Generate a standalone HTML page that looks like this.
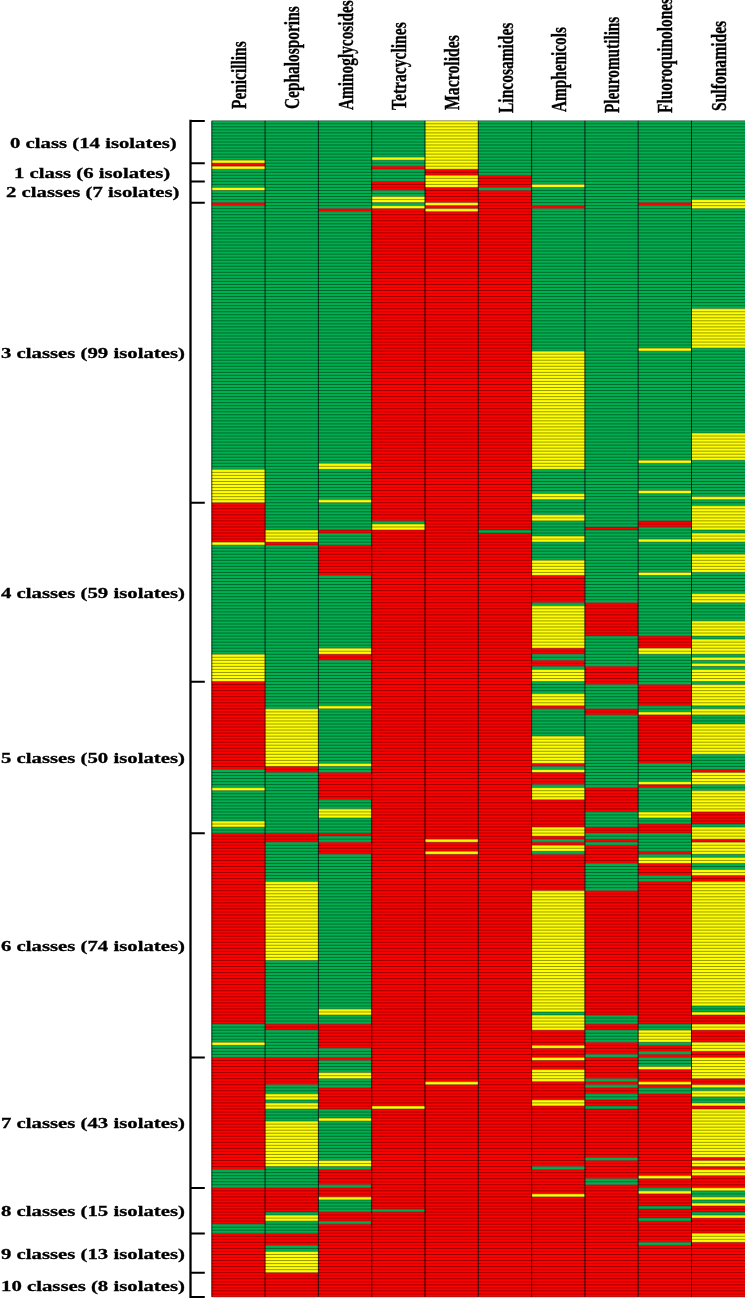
<!DOCTYPE html>
<html><head><meta charset="utf-8"><title>Antimicrobial resistance heatmap</title>
<style>
html,body{margin:0;padding:0;background:#fff;}
body{width:745px;height:1299px;position:relative;overflow:hidden;font-family:"Liberation Serif",serif;font-weight:bold;color:#000;}
.hm{position:absolute;left:0;top:0;filter:blur(0.35px);}
.hd{filter:blur(0.3px);-webkit-text-stroke:0.3px #000; position:absolute;white-space:nowrap;font-size:20.7px;line-height:1;transform-origin:0 0;transform:rotate(-90deg) scaleX(0.733);}
.lb{filter:blur(0.3px);-webkit-text-stroke:0.3px #000; position:absolute;white-space:nowrap;font-size:15.3px;line-height:1;transform-origin:0 0;transform:scaleX(1.357);}
.bk{position:absolute;background:#000;}
</style></head><body>
<svg class="hm" width="745" height="1299" viewBox="0 0 745 1299" shape-rendering="auto"><rect x="211.80" y="120.75" width="53.30" height="39.41" fill="#00b050"/><rect x="211.80" y="160.16" width="53.30" height="3.03" fill="#ffff00"/><rect x="211.80" y="163.19" width="53.30" height="3.03" fill="#ff0000"/><rect x="211.80" y="166.22" width="53.30" height="3.03" fill="#ffff00"/><rect x="211.80" y="169.25" width="53.30" height="18.19" fill="#00b050"/><rect x="211.80" y="187.44" width="53.30" height="3.03" fill="#ffff00"/><rect x="211.80" y="190.47" width="53.30" height="12.13" fill="#00b050"/><rect x="211.80" y="202.60" width="53.30" height="3.03" fill="#ff0000"/><rect x="211.80" y="205.63" width="53.30" height="263.73" fill="#00b050"/><rect x="211.80" y="469.36" width="53.30" height="33.35" fill="#ffff00"/><rect x="211.80" y="502.71" width="53.30" height="39.41" fill="#ff0000"/><rect x="211.80" y="542.11" width="53.30" height="3.03" fill="#ffff00"/><rect x="211.80" y="545.15" width="53.30" height="109.13" fill="#00b050"/><rect x="211.80" y="654.28" width="53.30" height="27.28" fill="#ffff00"/><rect x="211.80" y="681.56" width="53.30" height="87.91" fill="#ff0000"/><rect x="211.80" y="769.47" width="53.30" height="18.19" fill="#00b050"/><rect x="211.80" y="787.66" width="53.30" height="3.03" fill="#ffff00"/><rect x="211.80" y="790.69" width="53.30" height="30.31" fill="#00b050"/><rect x="211.80" y="821.00" width="53.30" height="6.06" fill="#ffff00"/><rect x="211.80" y="827.07" width="53.30" height="6.06" fill="#00b050"/><rect x="211.80" y="833.13" width="53.30" height="190.98" fill="#ff0000"/><rect x="211.80" y="1024.11" width="53.30" height="18.19" fill="#00b050"/><rect x="211.80" y="1042.30" width="53.30" height="3.03" fill="#ffff00"/><rect x="211.80" y="1045.33" width="53.30" height="12.13" fill="#00b050"/><rect x="211.80" y="1057.45" width="53.30" height="112.16" fill="#ff0000"/><rect x="211.80" y="1169.61" width="53.30" height="18.19" fill="#00b050"/><rect x="211.80" y="1187.80" width="53.30" height="36.38" fill="#ff0000"/><rect x="211.80" y="1224.18" width="53.30" height="9.09" fill="#00b050"/><rect x="211.80" y="1233.27" width="53.30" height="63.66" fill="#ff0000"/><rect x="265.10" y="120.75" width="53.30" height="409.24" fill="#00b050"/><rect x="265.10" y="529.99" width="53.30" height="12.13" fill="#ffff00"/><rect x="265.10" y="542.11" width="53.30" height="3.03" fill="#ff0000"/><rect x="265.10" y="545.15" width="53.30" height="163.70" fill="#00b050"/><rect x="265.10" y="708.84" width="53.30" height="57.60" fill="#ffff00"/><rect x="265.10" y="766.44" width="53.30" height="6.06" fill="#ff0000"/><rect x="265.10" y="772.50" width="53.30" height="60.63" fill="#00b050"/><rect x="265.10" y="833.13" width="53.30" height="9.09" fill="#ff0000"/><rect x="265.10" y="842.22" width="53.30" height="39.41" fill="#00b050"/><rect x="265.10" y="881.63" width="53.30" height="78.82" fill="#ffff00"/><rect x="265.10" y="960.45" width="53.30" height="63.66" fill="#00b050"/><rect x="265.10" y="1024.11" width="53.30" height="6.06" fill="#ff0000"/><rect x="265.10" y="1030.17" width="53.30" height="27.28" fill="#00b050"/><rect x="265.10" y="1057.45" width="53.30" height="27.28" fill="#ff0000"/><rect x="265.10" y="1084.74" width="53.30" height="9.09" fill="#00b050"/><rect x="265.10" y="1093.83" width="53.30" height="6.06" fill="#ffff00"/><rect x="265.10" y="1099.89" width="53.30" height="3.03" fill="#00b050"/><rect x="265.10" y="1102.92" width="53.30" height="6.06" fill="#ffff00"/><rect x="265.10" y="1108.99" width="53.30" height="12.13" fill="#00b050"/><rect x="265.10" y="1121.11" width="53.30" height="45.47" fill="#ffff00"/><rect x="265.10" y="1166.58" width="53.30" height="21.22" fill="#00b050"/><rect x="265.10" y="1187.80" width="53.30" height="24.25" fill="#ff0000"/><rect x="265.10" y="1212.05" width="53.30" height="3.03" fill="#00b050"/><rect x="265.10" y="1215.09" width="53.30" height="6.06" fill="#ffff00"/><rect x="265.10" y="1221.15" width="53.30" height="12.13" fill="#00b050"/><rect x="265.10" y="1233.27" width="53.30" height="12.13" fill="#ff0000"/><rect x="265.10" y="1245.40" width="53.30" height="6.06" fill="#00b050"/><rect x="265.10" y="1251.46" width="53.30" height="21.22" fill="#ffff00"/><rect x="265.10" y="1272.68" width="53.30" height="24.25" fill="#ff0000"/><rect x="318.40" y="120.75" width="53.30" height="87.91" fill="#00b050"/><rect x="318.40" y="208.66" width="53.30" height="3.03" fill="#ff0000"/><rect x="318.40" y="211.69" width="53.30" height="251.61" fill="#00b050"/><rect x="318.40" y="463.30" width="53.30" height="6.06" fill="#ffff00"/><rect x="318.40" y="469.36" width="53.30" height="30.31" fill="#00b050"/><rect x="318.40" y="499.68" width="53.30" height="3.03" fill="#ffff00"/><rect x="318.40" y="502.71" width="53.30" height="27.28" fill="#00b050"/><rect x="318.40" y="529.99" width="53.30" height="3.03" fill="#ff0000"/><rect x="318.40" y="533.02" width="53.30" height="12.13" fill="#00b050"/><rect x="318.40" y="545.15" width="53.30" height="30.31" fill="#ff0000"/><rect x="318.40" y="575.46" width="53.30" height="72.75" fill="#00b050"/><rect x="318.40" y="648.21" width="53.30" height="6.06" fill="#ffff00"/><rect x="318.40" y="654.28" width="53.30" height="6.06" fill="#ff0000"/><rect x="318.40" y="660.34" width="53.30" height="45.47" fill="#00b050"/><rect x="318.40" y="705.81" width="53.30" height="3.03" fill="#ffff00"/><rect x="318.40" y="708.84" width="53.30" height="54.57" fill="#00b050"/><rect x="318.40" y="763.41" width="53.30" height="3.03" fill="#ffff00"/><rect x="318.40" y="766.44" width="53.30" height="6.06" fill="#00b050"/><rect x="318.40" y="772.50" width="53.30" height="27.28" fill="#ff0000"/><rect x="318.40" y="799.78" width="53.30" height="9.09" fill="#00b050"/><rect x="318.40" y="808.88" width="53.30" height="9.09" fill="#ffff00"/><rect x="318.40" y="817.97" width="53.30" height="15.16" fill="#00b050"/><rect x="318.40" y="833.13" width="53.30" height="3.03" fill="#ff0000"/><rect x="318.40" y="836.16" width="53.30" height="6.06" fill="#00b050"/><rect x="318.40" y="842.22" width="53.30" height="12.13" fill="#ff0000"/><rect x="318.40" y="854.35" width="53.30" height="154.60" fill="#00b050"/><rect x="318.40" y="1008.95" width="53.30" height="6.06" fill="#ffff00"/><rect x="318.40" y="1015.01" width="53.30" height="9.09" fill="#00b050"/><rect x="318.40" y="1024.11" width="53.30" height="24.25" fill="#ff0000"/><rect x="318.40" y="1048.36" width="53.30" height="9.09" fill="#00b050"/><rect x="318.40" y="1057.45" width="53.30" height="3.03" fill="#ff0000"/><rect x="318.40" y="1060.48" width="53.30" height="12.13" fill="#00b050"/><rect x="318.40" y="1072.61" width="53.30" height="6.06" fill="#ffff00"/><rect x="318.40" y="1078.67" width="53.30" height="9.09" fill="#00b050"/><rect x="318.40" y="1087.77" width="53.30" height="21.22" fill="#ff0000"/><rect x="318.40" y="1108.99" width="53.30" height="9.09" fill="#00b050"/><rect x="318.40" y="1118.08" width="53.30" height="3.03" fill="#ffff00"/><rect x="318.40" y="1121.11" width="53.30" height="39.41" fill="#00b050"/><rect x="318.40" y="1160.52" width="53.30" height="6.06" fill="#ffff00"/><rect x="318.40" y="1166.58" width="53.30" height="3.03" fill="#00b050"/><rect x="318.40" y="1169.61" width="53.30" height="15.16" fill="#ff0000"/><rect x="318.40" y="1184.77" width="53.30" height="3.03" fill="#00b050"/><rect x="318.40" y="1187.80" width="53.30" height="9.09" fill="#ff0000"/><rect x="318.40" y="1196.90" width="53.30" height="3.03" fill="#ffff00"/><rect x="318.40" y="1199.93" width="53.30" height="12.13" fill="#00b050"/><rect x="318.40" y="1212.05" width="53.30" height="9.09" fill="#ff0000"/><rect x="318.40" y="1221.15" width="53.30" height="3.03" fill="#00b050"/><rect x="318.40" y="1224.18" width="53.30" height="72.75" fill="#ff0000"/><rect x="371.70" y="120.75" width="53.30" height="36.38" fill="#00b050"/><rect x="371.70" y="157.13" width="53.30" height="3.03" fill="#ffff00"/><rect x="371.70" y="160.16" width="53.30" height="6.06" fill="#00b050"/><rect x="371.70" y="166.22" width="53.30" height="3.03" fill="#ff0000"/><rect x="371.70" y="169.25" width="53.30" height="12.13" fill="#00b050"/><rect x="371.70" y="181.38" width="53.30" height="9.09" fill="#ff0000"/><rect x="371.70" y="190.47" width="53.30" height="6.06" fill="#00b050"/><rect x="371.70" y="196.53" width="53.30" height="6.06" fill="#ffff00"/><rect x="371.70" y="202.60" width="53.30" height="3.03" fill="#00b050"/><rect x="371.70" y="205.63" width="53.30" height="3.03" fill="#ffff00"/><rect x="371.70" y="208.66" width="53.30" height="312.23" fill="#ff0000"/><rect x="371.70" y="520.89" width="53.30" height="3.03" fill="#00b050"/><rect x="371.70" y="523.93" width="53.30" height="6.06" fill="#ffff00"/><rect x="371.70" y="529.99" width="53.30" height="575.97" fill="#ff0000"/><rect x="371.70" y="1105.95" width="53.30" height="3.03" fill="#ffff00"/><rect x="371.70" y="1108.99" width="53.30" height="100.04" fill="#ff0000"/><rect x="371.70" y="1209.02" width="53.30" height="3.03" fill="#00b050"/><rect x="371.70" y="1212.05" width="53.30" height="84.88" fill="#ff0000"/><rect x="425.00" y="120.75" width="53.30" height="48.50" fill="#ffff00"/><rect x="425.00" y="169.25" width="53.30" height="6.06" fill="#ff0000"/><rect x="425.00" y="175.32" width="53.30" height="12.13" fill="#ffff00"/><rect x="425.00" y="187.44" width="53.30" height="15.16" fill="#ff0000"/><rect x="425.00" y="202.60" width="53.30" height="3.03" fill="#ffff00"/><rect x="425.00" y="205.63" width="53.30" height="3.03" fill="#ff0000"/><rect x="425.00" y="208.66" width="53.30" height="3.03" fill="#ffff00"/><rect x="425.00" y="211.69" width="53.30" height="627.50" fill="#ff0000"/><rect x="425.00" y="839.19" width="53.30" height="3.03" fill="#ffff00"/><rect x="425.00" y="842.22" width="53.30" height="9.09" fill="#ff0000"/><rect x="425.00" y="851.32" width="53.30" height="3.03" fill="#ffff00"/><rect x="425.00" y="854.35" width="53.30" height="227.36" fill="#ff0000"/><rect x="425.00" y="1081.70" width="53.30" height="3.03" fill="#ffff00"/><rect x="425.00" y="1084.74" width="53.30" height="212.20" fill="#ff0000"/><rect x="478.30" y="120.75" width="53.30" height="54.57" fill="#00b050"/><rect x="478.30" y="175.32" width="53.30" height="12.13" fill="#ff0000"/><rect x="478.30" y="187.44" width="53.30" height="3.03" fill="#00b050"/><rect x="478.30" y="190.47" width="53.30" height="339.52" fill="#ff0000"/><rect x="478.30" y="529.99" width="53.30" height="3.03" fill="#00b050"/><rect x="478.30" y="533.02" width="53.30" height="763.91" fill="#ff0000"/><rect x="531.60" y="120.75" width="53.30" height="63.66" fill="#00b050"/><rect x="531.60" y="184.41" width="53.30" height="3.03" fill="#ffff00"/><rect x="531.60" y="187.44" width="53.30" height="18.19" fill="#00b050"/><rect x="531.60" y="205.63" width="53.30" height="3.03" fill="#ff0000"/><rect x="531.60" y="208.66" width="53.30" height="142.48" fill="#00b050"/><rect x="531.60" y="351.14" width="53.30" height="118.22" fill="#ffff00"/><rect x="531.60" y="469.36" width="53.30" height="24.25" fill="#00b050"/><rect x="531.60" y="493.61" width="53.30" height="6.06" fill="#ffff00"/><rect x="531.60" y="499.68" width="53.30" height="15.16" fill="#00b050"/><rect x="531.60" y="514.83" width="53.30" height="6.06" fill="#ffff00"/><rect x="531.60" y="520.89" width="53.30" height="15.16" fill="#00b050"/><rect x="531.60" y="536.05" width="53.30" height="6.06" fill="#ffff00"/><rect x="531.60" y="542.11" width="53.30" height="18.19" fill="#00b050"/><rect x="531.60" y="560.30" width="53.30" height="15.16" fill="#ffff00"/><rect x="531.60" y="575.46" width="53.30" height="27.28" fill="#ff0000"/><rect x="531.60" y="602.74" width="53.30" height="3.03" fill="#00b050"/><rect x="531.60" y="605.77" width="53.30" height="42.44" fill="#ffff00"/><rect x="531.60" y="648.21" width="53.30" height="6.06" fill="#ff0000"/><rect x="531.60" y="654.28" width="53.30" height="6.06" fill="#00b050"/><rect x="531.60" y="660.34" width="53.30" height="6.06" fill="#ff0000"/><rect x="531.60" y="666.40" width="53.30" height="3.03" fill="#00b050"/><rect x="531.60" y="669.43" width="53.30" height="12.13" fill="#ffff00"/><rect x="531.60" y="681.56" width="53.30" height="12.13" fill="#00b050"/><rect x="531.60" y="693.68" width="53.30" height="12.13" fill="#ffff00"/><rect x="531.60" y="705.81" width="53.30" height="3.03" fill="#ff0000"/><rect x="531.60" y="708.84" width="53.30" height="27.28" fill="#00b050"/><rect x="531.60" y="736.12" width="53.30" height="27.28" fill="#ffff00"/><rect x="531.60" y="763.41" width="53.30" height="3.03" fill="#ff0000"/><rect x="531.60" y="766.44" width="53.30" height="3.03" fill="#00b050"/><rect x="531.60" y="769.47" width="53.30" height="3.03" fill="#ffff00"/><rect x="531.60" y="772.50" width="53.30" height="12.13" fill="#ff0000"/><rect x="531.60" y="784.63" width="53.30" height="3.03" fill="#00b050"/><rect x="531.60" y="787.66" width="53.30" height="12.13" fill="#ffff00"/><rect x="531.60" y="799.78" width="53.30" height="27.28" fill="#ff0000"/><rect x="531.60" y="827.07" width="53.30" height="9.09" fill="#ffff00"/><rect x="531.60" y="836.16" width="53.30" height="3.03" fill="#ff0000"/><rect x="531.60" y="839.19" width="53.30" height="3.03" fill="#00b050"/><rect x="531.60" y="842.22" width="53.30" height="3.03" fill="#ff0000"/><rect x="531.60" y="845.25" width="53.30" height="6.06" fill="#ffff00"/><rect x="531.60" y="851.32" width="53.30" height="3.03" fill="#00b050"/><rect x="531.60" y="854.35" width="53.30" height="36.38" fill="#ff0000"/><rect x="531.60" y="890.73" width="53.30" height="121.26" fill="#ffff00"/><rect x="531.60" y="1011.98" width="53.30" height="3.03" fill="#00b050"/><rect x="531.60" y="1015.01" width="53.30" height="15.16" fill="#ffff00"/><rect x="531.60" y="1030.17" width="53.30" height="15.16" fill="#ff0000"/><rect x="531.60" y="1045.33" width="53.30" height="3.03" fill="#ffff00"/><rect x="531.60" y="1048.36" width="53.30" height="9.09" fill="#ff0000"/><rect x="531.60" y="1057.45" width="53.30" height="3.03" fill="#ffff00"/><rect x="531.60" y="1060.48" width="53.30" height="9.09" fill="#ff0000"/><rect x="531.60" y="1069.58" width="53.30" height="12.13" fill="#ffff00"/><rect x="531.60" y="1081.70" width="53.30" height="18.19" fill="#ff0000"/><rect x="531.60" y="1099.89" width="53.30" height="6.06" fill="#ffff00"/><rect x="531.60" y="1105.95" width="53.30" height="60.63" fill="#ff0000"/><rect x="531.60" y="1166.58" width="53.30" height="3.03" fill="#00b050"/><rect x="531.60" y="1169.61" width="53.30" height="24.25" fill="#ff0000"/><rect x="531.60" y="1193.87" width="53.30" height="3.03" fill="#ffff00"/><rect x="531.60" y="1196.90" width="53.30" height="100.04" fill="#ff0000"/><rect x="584.90" y="120.75" width="53.30" height="406.21" fill="#00b050"/><rect x="584.90" y="526.96" width="53.30" height="3.03" fill="#ff0000"/><rect x="584.90" y="529.99" width="53.30" height="72.75" fill="#00b050"/><rect x="584.90" y="602.74" width="53.30" height="33.35" fill="#ff0000"/><rect x="584.90" y="636.09" width="53.30" height="30.31" fill="#00b050"/><rect x="584.90" y="666.40" width="53.30" height="18.19" fill="#ff0000"/><rect x="584.90" y="684.59" width="53.30" height="24.25" fill="#00b050"/><rect x="584.90" y="708.84" width="53.30" height="6.06" fill="#ff0000"/><rect x="584.90" y="714.90" width="53.30" height="72.75" fill="#00b050"/><rect x="584.90" y="787.66" width="53.30" height="24.25" fill="#ff0000"/><rect x="584.90" y="811.91" width="53.30" height="15.16" fill="#00b050"/><rect x="584.90" y="827.07" width="53.30" height="6.06" fill="#ff0000"/><rect x="584.90" y="833.13" width="53.30" height="6.06" fill="#00b050"/><rect x="584.90" y="839.19" width="53.30" height="3.03" fill="#ff0000"/><rect x="584.90" y="842.22" width="53.30" height="3.03" fill="#00b050"/><rect x="584.90" y="845.25" width="53.30" height="18.19" fill="#ff0000"/><rect x="584.90" y="863.44" width="53.30" height="27.28" fill="#00b050"/><rect x="584.90" y="890.73" width="53.30" height="124.29" fill="#ff0000"/><rect x="584.90" y="1015.01" width="53.30" height="9.09" fill="#00b050"/><rect x="584.90" y="1024.11" width="53.30" height="6.06" fill="#ff0000"/><rect x="584.90" y="1030.17" width="53.30" height="12.13" fill="#00b050"/><rect x="584.90" y="1042.30" width="53.30" height="12.13" fill="#ff0000"/><rect x="584.90" y="1054.42" width="53.30" height="3.03" fill="#00b050"/><rect x="584.90" y="1057.45" width="53.30" height="21.22" fill="#ff0000"/><rect x="584.90" y="1078.67" width="53.30" height="3.03" fill="#00b050"/><rect x="584.90" y="1081.70" width="53.30" height="3.03" fill="#ff0000"/><rect x="584.90" y="1084.74" width="53.30" height="3.03" fill="#00b050"/><rect x="584.90" y="1087.77" width="53.30" height="6.06" fill="#ff0000"/><rect x="584.90" y="1093.83" width="53.30" height="6.06" fill="#00b050"/><rect x="584.90" y="1099.89" width="53.30" height="6.06" fill="#ff0000"/><rect x="584.90" y="1105.95" width="53.30" height="3.03" fill="#00b050"/><rect x="584.90" y="1108.99" width="53.30" height="48.50" fill="#ff0000"/><rect x="584.90" y="1157.49" width="53.30" height="3.03" fill="#00b050"/><rect x="584.90" y="1160.52" width="53.30" height="18.19" fill="#ff0000"/><rect x="584.90" y="1178.71" width="53.30" height="6.06" fill="#00b050"/><rect x="584.90" y="1184.77" width="53.30" height="112.16" fill="#ff0000"/><rect x="638.20" y="120.75" width="53.30" height="81.85" fill="#00b050"/><rect x="638.20" y="202.60" width="53.30" height="3.03" fill="#ff0000"/><rect x="638.20" y="205.63" width="53.30" height="142.48" fill="#00b050"/><rect x="638.20" y="348.11" width="53.30" height="3.03" fill="#ffff00"/><rect x="638.20" y="351.14" width="53.30" height="109.13" fill="#00b050"/><rect x="638.20" y="460.27" width="53.30" height="3.03" fill="#ffff00"/><rect x="638.20" y="463.30" width="53.30" height="27.28" fill="#00b050"/><rect x="638.20" y="490.58" width="53.30" height="3.03" fill="#ffff00"/><rect x="638.20" y="493.61" width="53.30" height="27.28" fill="#00b050"/><rect x="638.20" y="520.89" width="53.30" height="6.06" fill="#ff0000"/><rect x="638.20" y="526.96" width="53.30" height="12.13" fill="#00b050"/><rect x="638.20" y="539.08" width="53.30" height="3.03" fill="#ffff00"/><rect x="638.20" y="542.11" width="53.30" height="30.31" fill="#00b050"/><rect x="638.20" y="572.43" width="53.30" height="3.03" fill="#ffff00"/><rect x="638.20" y="575.46" width="53.30" height="60.63" fill="#00b050"/><rect x="638.20" y="636.09" width="53.30" height="12.13" fill="#ff0000"/><rect x="638.20" y="648.21" width="53.30" height="6.06" fill="#ffff00"/><rect x="638.20" y="654.28" width="53.30" height="30.31" fill="#00b050"/><rect x="638.20" y="684.59" width="53.30" height="21.22" fill="#ff0000"/><rect x="638.20" y="705.81" width="53.30" height="6.06" fill="#00b050"/><rect x="638.20" y="711.87" width="53.30" height="3.03" fill="#ffff00"/><rect x="638.20" y="714.90" width="53.30" height="48.50" fill="#ff0000"/><rect x="638.20" y="763.41" width="53.30" height="18.19" fill="#00b050"/><rect x="638.20" y="781.60" width="53.30" height="3.03" fill="#ffff00"/><rect x="638.20" y="784.63" width="53.30" height="3.03" fill="#ff0000"/><rect x="638.20" y="787.66" width="53.30" height="24.25" fill="#00b050"/><rect x="638.20" y="811.91" width="53.30" height="6.06" fill="#ffff00"/><rect x="638.20" y="817.97" width="53.30" height="6.06" fill="#00b050"/><rect x="638.20" y="824.03" width="53.30" height="9.09" fill="#ff0000"/><rect x="638.20" y="833.13" width="53.30" height="18.19" fill="#00b050"/><rect x="638.20" y="851.32" width="53.30" height="3.03" fill="#ff0000"/><rect x="638.20" y="854.35" width="53.30" height="3.03" fill="#00b050"/><rect x="638.20" y="857.38" width="53.30" height="6.06" fill="#ffff00"/><rect x="638.20" y="863.44" width="53.30" height="12.13" fill="#ff0000"/><rect x="638.20" y="875.57" width="53.30" height="6.06" fill="#00b050"/><rect x="638.20" y="881.63" width="53.30" height="142.48" fill="#ff0000"/><rect x="638.20" y="1024.11" width="53.30" height="6.06" fill="#00b050"/><rect x="638.20" y="1030.17" width="53.30" height="12.13" fill="#ffff00"/><rect x="638.20" y="1042.30" width="53.30" height="3.03" fill="#00b050"/><rect x="638.20" y="1045.33" width="53.30" height="6.06" fill="#ff0000"/><rect x="638.20" y="1051.39" width="53.30" height="3.03" fill="#00b050"/><rect x="638.20" y="1054.42" width="53.30" height="3.03" fill="#ff0000"/><rect x="638.20" y="1057.45" width="53.30" height="9.09" fill="#00b050"/><rect x="638.20" y="1066.55" width="53.30" height="3.03" fill="#ffff00"/><rect x="638.20" y="1069.58" width="53.30" height="12.13" fill="#ff0000"/><rect x="638.20" y="1081.70" width="53.30" height="3.03" fill="#ffff00"/><rect x="638.20" y="1084.74" width="53.30" height="3.03" fill="#ff0000"/><rect x="638.20" y="1087.77" width="53.30" height="6.06" fill="#00b050"/><rect x="638.20" y="1093.83" width="53.30" height="81.85" fill="#ff0000"/><rect x="638.20" y="1175.68" width="53.30" height="3.03" fill="#ffff00"/><rect x="638.20" y="1178.71" width="53.30" height="9.09" fill="#ff0000"/><rect x="638.20" y="1187.80" width="53.30" height="3.03" fill="#00b050"/><rect x="638.20" y="1190.83" width="53.30" height="3.03" fill="#ffff00"/><rect x="638.20" y="1193.87" width="53.30" height="12.13" fill="#ff0000"/><rect x="638.20" y="1205.99" width="53.30" height="3.03" fill="#00b050"/><rect x="638.20" y="1209.02" width="53.30" height="9.09" fill="#ff0000"/><rect x="638.20" y="1218.12" width="53.30" height="3.03" fill="#00b050"/><rect x="638.20" y="1221.15" width="53.30" height="21.22" fill="#ff0000"/><rect x="638.20" y="1242.37" width="53.30" height="3.03" fill="#00b050"/><rect x="638.20" y="1245.40" width="53.30" height="51.53" fill="#ff0000"/><rect x="691.50" y="120.75" width="54.80" height="78.82" fill="#00b050"/><rect x="691.50" y="199.57" width="54.80" height="9.09" fill="#ffff00"/><rect x="691.50" y="208.66" width="54.80" height="100.04" fill="#00b050"/><rect x="691.50" y="308.70" width="54.80" height="39.41" fill="#ffff00"/><rect x="691.50" y="348.11" width="54.80" height="84.88" fill="#00b050"/><rect x="691.50" y="432.98" width="54.80" height="27.28" fill="#ffff00"/><rect x="691.50" y="460.27" width="54.80" height="36.38" fill="#00b050"/><rect x="691.50" y="496.64" width="54.80" height="3.03" fill="#ffff00"/><rect x="691.50" y="499.68" width="54.80" height="6.06" fill="#00b050"/><rect x="691.50" y="505.74" width="54.80" height="24.25" fill="#ffff00"/><rect x="691.50" y="529.99" width="54.80" height="3.03" fill="#00b050"/><rect x="691.50" y="533.02" width="54.80" height="9.09" fill="#ffff00"/><rect x="691.50" y="542.11" width="54.80" height="12.13" fill="#00b050"/><rect x="691.50" y="554.24" width="54.80" height="18.19" fill="#ffff00"/><rect x="691.50" y="572.43" width="54.80" height="21.22" fill="#00b050"/><rect x="691.50" y="593.65" width="54.80" height="9.09" fill="#ffff00"/><rect x="691.50" y="602.74" width="54.80" height="18.19" fill="#00b050"/><rect x="691.50" y="620.93" width="54.80" height="15.16" fill="#ffff00"/><rect x="691.50" y="636.09" width="54.80" height="3.03" fill="#00b050"/><rect x="691.50" y="639.12" width="54.80" height="15.16" fill="#ffff00"/><rect x="691.50" y="654.28" width="54.80" height="3.03" fill="#00b050"/><rect x="691.50" y="657.31" width="54.80" height="3.03" fill="#ffff00"/><rect x="691.50" y="660.34" width="54.80" height="3.03" fill="#00b050"/><rect x="691.50" y="663.37" width="54.80" height="3.03" fill="#ffff00"/><rect x="691.50" y="666.40" width="54.80" height="3.03" fill="#00b050"/><rect x="691.50" y="669.43" width="54.80" height="12.13" fill="#ffff00"/><rect x="691.50" y="681.56" width="54.80" height="3.03" fill="#00b050"/><rect x="691.50" y="684.59" width="54.80" height="21.22" fill="#ffff00"/><rect x="691.50" y="705.81" width="54.80" height="3.03" fill="#00b050"/><rect x="691.50" y="708.84" width="54.80" height="6.06" fill="#ffff00"/><rect x="691.50" y="714.90" width="54.80" height="9.09" fill="#00b050"/><rect x="691.50" y="724.00" width="54.80" height="30.31" fill="#ffff00"/><rect x="691.50" y="754.31" width="54.80" height="15.16" fill="#00b050"/><rect x="691.50" y="769.47" width="54.80" height="3.03" fill="#ff0000"/><rect x="691.50" y="772.50" width="54.80" height="12.13" fill="#ffff00"/><rect x="691.50" y="784.63" width="54.80" height="6.06" fill="#00b050"/><rect x="691.50" y="790.69" width="54.80" height="21.22" fill="#ffff00"/><rect x="691.50" y="811.91" width="54.80" height="12.13" fill="#ff0000"/><rect x="691.50" y="824.03" width="54.80" height="3.03" fill="#00b050"/><rect x="691.50" y="827.07" width="54.80" height="12.13" fill="#ffff00"/><rect x="691.50" y="839.19" width="54.80" height="3.03" fill="#ff0000"/><rect x="691.50" y="842.22" width="54.80" height="12.13" fill="#ffff00"/><rect x="691.50" y="854.35" width="54.80" height="3.03" fill="#00b050"/><rect x="691.50" y="857.38" width="54.80" height="6.06" fill="#ffff00"/><rect x="691.50" y="863.44" width="54.80" height="6.06" fill="#00b050"/><rect x="691.50" y="869.51" width="54.80" height="6.06" fill="#ffff00"/><rect x="691.50" y="875.57" width="54.80" height="6.06" fill="#ff0000"/><rect x="691.50" y="881.63" width="54.80" height="124.29" fill="#ffff00"/><rect x="691.50" y="1005.92" width="54.80" height="6.06" fill="#00b050"/><rect x="691.50" y="1011.98" width="54.80" height="3.03" fill="#ffff00"/><rect x="691.50" y="1015.01" width="54.80" height="9.09" fill="#ff0000"/><rect x="691.50" y="1024.11" width="54.80" height="6.06" fill="#ffff00"/><rect x="691.50" y="1030.17" width="54.80" height="12.13" fill="#ff0000"/><rect x="691.50" y="1042.30" width="54.80" height="9.09" fill="#ffff00"/><rect x="691.50" y="1051.39" width="54.80" height="6.06" fill="#ff0000"/><rect x="691.50" y="1057.45" width="54.80" height="21.22" fill="#ffff00"/><rect x="691.50" y="1078.67" width="54.80" height="6.06" fill="#ff0000"/><rect x="691.50" y="1084.74" width="54.80" height="3.03" fill="#ffff00"/><rect x="691.50" y="1087.77" width="54.80" height="3.03" fill="#00b050"/><rect x="691.50" y="1090.80" width="54.80" height="6.06" fill="#ffff00"/><rect x="691.50" y="1096.86" width="54.80" height="6.06" fill="#00b050"/><rect x="691.50" y="1102.92" width="54.80" height="3.03" fill="#ffff00"/><rect x="691.50" y="1105.95" width="54.80" height="3.03" fill="#ff0000"/><rect x="691.50" y="1108.99" width="54.80" height="48.50" fill="#ffff00"/><rect x="691.50" y="1157.49" width="54.80" height="3.03" fill="#ff0000"/><rect x="691.50" y="1160.52" width="54.80" height="6.06" fill="#ffff00"/><rect x="691.50" y="1166.58" width="54.80" height="3.03" fill="#ff0000"/><rect x="691.50" y="1169.61" width="54.80" height="6.06" fill="#ffff00"/><rect x="691.50" y="1175.68" width="54.80" height="12.13" fill="#ff0000"/><rect x="691.50" y="1187.80" width="54.80" height="3.03" fill="#ffff00"/><rect x="691.50" y="1190.83" width="54.80" height="6.06" fill="#00b050"/><rect x="691.50" y="1196.90" width="54.80" height="3.03" fill="#ffff00"/><rect x="691.50" y="1199.93" width="54.80" height="3.03" fill="#00b050"/><rect x="691.50" y="1202.96" width="54.80" height="3.03" fill="#ffff00"/><rect x="691.50" y="1205.99" width="54.80" height="6.06" fill="#ff0000"/><rect x="691.50" y="1212.05" width="54.80" height="3.03" fill="#00b050"/><rect x="691.50" y="1215.09" width="54.80" height="3.03" fill="#ffff00"/><rect x="691.50" y="1218.12" width="54.80" height="15.16" fill="#ff0000"/><rect x="691.50" y="1233.27" width="54.80" height="9.09" fill="#ffff00"/><rect x="691.50" y="1242.37" width="54.80" height="54.57" fill="#ff0000"/><path d="M211.80 120.75H746.30M211.80 123.78H746.30M211.80 126.81H746.30M211.80 129.84H746.30M211.80 132.88H746.30M211.80 135.91H746.30M211.80 138.94H746.30M211.80 141.97H746.30M211.80 145.00H746.30M211.80 148.03H746.30M211.80 151.06H746.30M211.80 154.10H746.30M211.80 157.13H746.30M211.80 160.16H746.30M211.80 163.19H746.30M211.80 166.22H746.30M211.80 169.25H746.30M211.80 172.28H746.30M211.80 175.32H746.30M211.80 178.35H746.30M211.80 181.38H746.30M211.80 184.41H746.30M211.80 187.44H746.30M211.80 190.47H746.30M211.80 193.50H746.30M211.80 196.53H746.30M211.80 199.57H746.30M211.80 202.60H746.30M211.80 205.63H746.30M211.80 208.66H746.30M211.80 211.69H746.30M211.80 214.72H746.30M211.80 217.75H746.30M211.80 220.79H746.30M211.80 223.82H746.30M211.80 226.85H746.30M211.80 229.88H746.30M211.80 232.91H746.30M211.80 235.94H746.30M211.80 238.97H746.30M211.80 242.01H746.30M211.80 245.04H746.30M211.80 248.07H746.30M211.80 251.10H746.30M211.80 254.13H746.30M211.80 257.16H746.30M211.80 260.19H746.30M211.80 263.23H746.30M211.80 266.26H746.30M211.80 269.29H746.30M211.80 272.32H746.30M211.80 275.35H746.30M211.80 278.38H746.30M211.80 281.41H746.30M211.80 284.45H746.30M211.80 287.48H746.30M211.80 290.51H746.30M211.80 293.54H746.30M211.80 296.57H746.30M211.80 299.60H746.30M211.80 302.63H746.30M211.80 305.67H746.30M211.80 308.70H746.30M211.80 311.73H746.30M211.80 314.76H746.30M211.80 317.79H746.30M211.80 320.82H746.30M211.80 323.85H746.30M211.80 326.89H746.30M211.80 329.92H746.30M211.80 332.95H746.30M211.80 335.98H746.30M211.80 339.01H746.30M211.80 342.04H746.30M211.80 345.07H746.30M211.80 348.11H746.30M211.80 351.14H746.30M211.80 354.17H746.30M211.80 357.20H746.30M211.80 360.23H746.30M211.80 363.26H746.30M211.80 366.29H746.30M211.80 369.32H746.30M211.80 372.36H746.30M211.80 375.39H746.30M211.80 378.42H746.30M211.80 381.45H746.30M211.80 384.48H746.30M211.80 387.51H746.30M211.80 390.54H746.30M211.80 393.58H746.30M211.80 396.61H746.30M211.80 399.64H746.30M211.80 402.67H746.30M211.80 405.70H746.30M211.80 408.73H746.30M211.80 411.76H746.30M211.80 414.80H746.30M211.80 417.83H746.30M211.80 420.86H746.30M211.80 423.89H746.30M211.80 426.92H746.30M211.80 429.95H746.30M211.80 432.98H746.30M211.80 436.02H746.30M211.80 439.05H746.30M211.80 442.08H746.30M211.80 445.11H746.30M211.80 448.14H746.30M211.80 451.17H746.30M211.80 454.20H746.30M211.80 457.24H746.30M211.80 460.27H746.30M211.80 463.30H746.30M211.80 466.33H746.30M211.80 469.36H746.30M211.80 472.39H746.30M211.80 475.42H746.30M211.80 478.46H746.30M211.80 481.49H746.30M211.80 484.52H746.30M211.80 487.55H746.30M211.80 490.58H746.30M211.80 493.61H746.30M211.80 496.64H746.30M211.80 499.68H746.30M211.80 502.71H746.30M211.80 505.74H746.30M211.80 508.77H746.30M211.80 511.80H746.30M211.80 514.83H746.30M211.80 517.86H746.30M211.80 520.89H746.30M211.80 523.93H746.30M211.80 526.96H746.30M211.80 529.99H746.30M211.80 533.02H746.30M211.80 536.05H746.30M211.80 539.08H746.30M211.80 542.11H746.30M211.80 545.15H746.30M211.80 548.18H746.30M211.80 551.21H746.30M211.80 554.24H746.30M211.80 557.27H746.30M211.80 560.30H746.30M211.80 563.33H746.30M211.80 566.37H746.30M211.80 569.40H746.30M211.80 572.43H746.30M211.80 575.46H746.30M211.80 578.49H746.30M211.80 581.52H746.30M211.80 584.55H746.30M211.80 587.59H746.30M211.80 590.62H746.30M211.80 593.65H746.30M211.80 596.68H746.30M211.80 599.71H746.30M211.80 602.74H746.30M211.80 605.77H746.30M211.80 608.81H746.30M211.80 611.84H746.30M211.80 614.87H746.30M211.80 617.90H746.30M211.80 620.93H746.30M211.80 623.96H746.30M211.80 626.99H746.30M211.80 630.03H746.30M211.80 633.06H746.30M211.80 636.09H746.30M211.80 639.12H746.30M211.80 642.15H746.30M211.80 645.18H746.30M211.80 648.21H746.30M211.80 651.25H746.30M211.80 654.28H746.30M211.80 657.31H746.30M211.80 660.34H746.30M211.80 663.37H746.30M211.80 666.40H746.30M211.80 669.43H746.30M211.80 672.46H746.30M211.80 675.50H746.30M211.80 678.53H746.30M211.80 681.56H746.30M211.80 684.59H746.30M211.80 687.62H746.30M211.80 690.65H746.30M211.80 693.68H746.30M211.80 696.72H746.30M211.80 699.75H746.30M211.80 702.78H746.30M211.80 705.81H746.30M211.80 708.84H746.30M211.80 711.87H746.30M211.80 714.90H746.30M211.80 717.94H746.30M211.80 720.97H746.30M211.80 724.00H746.30M211.80 727.03H746.30M211.80 730.06H746.30M211.80 733.09H746.30M211.80 736.12H746.30M211.80 739.16H746.30M211.80 742.19H746.30M211.80 745.22H746.30M211.80 748.25H746.30M211.80 751.28H746.30M211.80 754.31H746.30M211.80 757.34H746.30M211.80 760.38H746.30M211.80 763.41H746.30M211.80 766.44H746.30M211.80 769.47H746.30M211.80 772.50H746.30M211.80 775.53H746.30M211.80 778.56H746.30M211.80 781.60H746.30M211.80 784.63H746.30M211.80 787.66H746.30M211.80 790.69H746.30M211.80 793.72H746.30M211.80 796.75H746.30M211.80 799.78H746.30M211.80 802.82H746.30M211.80 805.85H746.30M211.80 808.88H746.30M211.80 811.91H746.30M211.80 814.94H746.30M211.80 817.97H746.30M211.80 821.00H746.30M211.80 824.03H746.30M211.80 827.07H746.30M211.80 830.10H746.30M211.80 833.13H746.30M211.80 836.16H746.30M211.80 839.19H746.30M211.80 842.22H746.30M211.80 845.25H746.30M211.80 848.29H746.30M211.80 851.32H746.30M211.80 854.35H746.30M211.80 857.38H746.30M211.80 860.41H746.30M211.80 863.44H746.30M211.80 866.47H746.30M211.80 869.51H746.30M211.80 872.54H746.30M211.80 875.57H746.30M211.80 878.60H746.30M211.80 881.63H746.30M211.80 884.66H746.30M211.80 887.69H746.30M211.80 890.73H746.30M211.80 893.76H746.30M211.80 896.79H746.30M211.80 899.82H746.30M211.80 902.85H746.30M211.80 905.88H746.30M211.80 908.91H746.30M211.80 911.95H746.30M211.80 914.98H746.30M211.80 918.01H746.30M211.80 921.04H746.30M211.80 924.07H746.30M211.80 927.10H746.30M211.80 930.13H746.30M211.80 933.17H746.30M211.80 936.20H746.30M211.80 939.23H746.30M211.80 942.26H746.30M211.80 945.29H746.30M211.80 948.32H746.30M211.80 951.35H746.30M211.80 954.38H746.30M211.80 957.42H746.30M211.80 960.45H746.30M211.80 963.48H746.30M211.80 966.51H746.30M211.80 969.54H746.30M211.80 972.57H746.30M211.80 975.60H746.30M211.80 978.64H746.30M211.80 981.67H746.30M211.80 984.70H746.30M211.80 987.73H746.30M211.80 990.76H746.30M211.80 993.79H746.30M211.80 996.82H746.30M211.80 999.86H746.30M211.80 1002.89H746.30M211.80 1005.92H746.30M211.80 1008.95H746.30M211.80 1011.98H746.30M211.80 1015.01H746.30M211.80 1018.04H746.30M211.80 1021.08H746.30M211.80 1024.11H746.30M211.80 1027.14H746.30M211.80 1030.17H746.30M211.80 1033.20H746.30M211.80 1036.23H746.30M211.80 1039.26H746.30M211.80 1042.30H746.30M211.80 1045.33H746.30M211.80 1048.36H746.30M211.80 1051.39H746.30M211.80 1054.42H746.30M211.80 1057.45H746.30M211.80 1060.48H746.30M211.80 1063.52H746.30M211.80 1066.55H746.30M211.80 1069.58H746.30M211.80 1072.61H746.30M211.80 1075.64H746.30M211.80 1078.67H746.30M211.80 1081.70H746.30M211.80 1084.74H746.30M211.80 1087.77H746.30M211.80 1090.80H746.30M211.80 1093.83H746.30M211.80 1096.86H746.30M211.80 1099.89H746.30M211.80 1102.92H746.30M211.80 1105.95H746.30M211.80 1108.99H746.30M211.80 1112.02H746.30M211.80 1115.05H746.30M211.80 1118.08H746.30M211.80 1121.11H746.30M211.80 1124.14H746.30M211.80 1127.17H746.30M211.80 1130.21H746.30M211.80 1133.24H746.30M211.80 1136.27H746.30M211.80 1139.30H746.30M211.80 1142.33H746.30M211.80 1145.36H746.30M211.80 1148.39H746.30M211.80 1151.43H746.30M211.80 1154.46H746.30M211.80 1157.49H746.30M211.80 1160.52H746.30M211.80 1163.55H746.30M211.80 1166.58H746.30M211.80 1169.61H746.30M211.80 1172.65H746.30M211.80 1175.68H746.30M211.80 1178.71H746.30M211.80 1181.74H746.30M211.80 1184.77H746.30M211.80 1187.80H746.30M211.80 1190.83H746.30M211.80 1193.87H746.30M211.80 1196.90H746.30M211.80 1199.93H746.30M211.80 1202.96H746.30M211.80 1205.99H746.30M211.80 1209.02H746.30M211.80 1212.05H746.30M211.80 1215.09H746.30M211.80 1218.12H746.30M211.80 1221.15H746.30M211.80 1224.18H746.30M211.80 1227.21H746.30M211.80 1230.24H746.30M211.80 1233.27H746.30M211.80 1236.31H746.30M211.80 1239.34H746.30M211.80 1242.37H746.30M211.80 1245.40H746.30M211.80 1248.43H746.30M211.80 1251.46H746.30M211.80 1254.49H746.30M211.80 1257.53H746.30M211.80 1260.56H746.30M211.80 1263.59H746.30M211.80 1266.62H746.30M211.80 1269.65H746.30M211.80 1272.68H746.30M211.80 1275.71H746.30M211.80 1278.74H746.30M211.80 1281.78H746.30M211.80 1284.81H746.30M211.80 1287.84H746.30M211.80 1290.87H746.30M211.80 1293.90H746.30M211.80 1296.93H746.30" stroke="#000" stroke-opacity="0.45" stroke-width="0.9" fill="none"/><path d="M211.80 120.75V1296.93M265.10 120.75V1296.93M318.40 120.75V1296.93M371.70 120.75V1296.93M425.00 120.75V1296.93M478.30 120.75V1296.93M531.60 120.75V1296.93M584.90 120.75V1296.93M638.20 120.75V1296.93M691.50 120.75V1296.93" stroke="#000" stroke-opacity="0.9" stroke-width="0.9" fill="none"/></svg>
<div class="hd" style="left:229.1px;top:109.1px;transform:rotate(-90deg) scaleX(0.7452)">Penicillins</div><div class="hd" style="left:282.4px;top:109.2px;transform:rotate(-90deg) scaleX(0.7444)">Cephalosporins</div><div class="hd" style="left:335.7px;top:110.4px;transform:rotate(-90deg) scaleX(0.7407)">Aminoglycosides</div><div class="hd" style="left:389.0px;top:109.65px;transform:rotate(-90deg) scaleX(0.7535)">Tetracyclines</div><div class="hd" style="left:442.2px;top:109.5px;transform:rotate(-90deg) scaleX(0.7618)">Macrolides</div><div class="hd" style="left:495.6px;top:112.5px;transform:rotate(-90deg) scaleX(0.749)">Lincosamides</div><div class="hd" style="left:548.9px;top:112.4px;transform:rotate(-90deg) scaleX(0.7384)">Amphenicols</div><div class="hd" style="left:602.1px;top:113.2px;transform:rotate(-90deg) scaleX(0.7369)">Pleuromutilins</div><div class="hd" style="left:655.4px;top:113.2px;transform:rotate(-90deg) scaleX(0.7429)">Fluoroquinolones</div><div class="hd" style="left:708.8px;top:110.7px;transform:rotate(-90deg) scaleX(0.7542)">Sulfonamides</div>
<div class="lb" style="left:9.5px;top:134.75px">0 class (14 isolates)</div><div class="lb" style="left:14.4px;top:164.55px">1 class (6 isolates)</div><div class="lb" style="left:6.0px;top:184.25px">2 classes (7 isolates)</div><div class="lb" style="left:1.0px;top:345.25px">3 classes (99 isolates)</div><div class="lb" style="left:1.0px;top:585.05px">4 classes (59 isolates)</div><div class="lb" style="left:1.0px;top:750.05px">5 classes (50 isolates)</div><div class="lb" style="left:1.0px;top:938.05px">6 classes (74 isolates)</div><div class="lb" style="left:1.0px;top:1115.05px">7 classes (43 isolates)</div><div class="lb" style="left:1.0px;top:1203.25px">8 classes (15 isolates)</div><div class="lb" style="left:1.0px;top:1245.6px">9 classes (13 isolates)</div><div class="lb" style="left:1.0px;top:1277.8px">10 classes (8 isolates)</div>
<svg class="hm" width="745" height="1299" viewBox="0 0 745 1299"><path d="M190.50 119.75V1297.93" stroke="#000" stroke-width="2.3" fill="none"/><path d="M190.50 120.90H204.80M190.50 163.34H204.80M190.50 181.53H204.80M190.50 202.75H204.80M190.50 502.86H204.80M190.50 681.71H204.80M190.50 833.28H204.80M190.50 1057.60H204.80M190.50 1187.95H204.80M190.50 1233.42H204.80M190.50 1272.83H204.80M190.50 1297.08H204.80" stroke="#000" stroke-width="2.0" fill="none"/></svg>
</body></html>
